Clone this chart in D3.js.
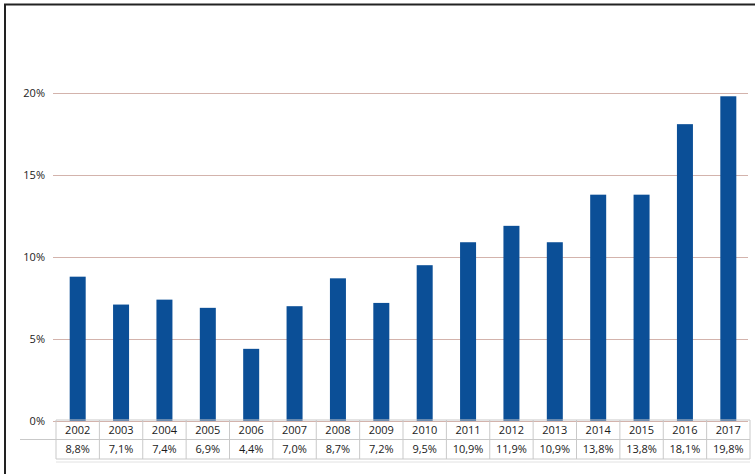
<!DOCTYPE html>
<html>
<head>
<meta charset="utf-8">
<script src="https://cdn.jsdelivr.net/npm/d3@7"></script>
<style>
  body { margin: 0; background: #fff; }
  svg { display: block; font-family: "Open Sans", "DejaVu Sans", sans-serif; }
</style>
</head>
<body>
<div id="chart"></div>
<script>
// Data
const years = ["2002", "2003", "2004", "2005", "2006", "2007", "2008", "2009",
  "2010", "2011", "2012", "2013", "2014", "2015", "2016", "2017"];
const shares = [8.8, 7.1, 7.4, 6.9, 4.4, 7.0, 8.7, 7.2, 9.5, 10.9, 11.9, 10.9, 13.8, 13.8, 18.1, 19.8];
const yTicks = [0, 5, 10, 15, 20];

const width = 755;
const height = 474;
const marginLeft = 56;
const marginRight = 5;
const plotTop = 93;   // y of the 20% line
const plotBottom = 421; // y of the 0% line

const svg = d3.create("svg").attr("width", width).attr("height", height);

// Outer frame (left and top edges)
svg.append("path")
  .attr("d", `M5,${height}V4.5H${width}`)
  .attr("fill", "none")
  .attr("stroke", "#222")
  .attr("stroke-width", 2);

const x = d3.scaleBand(years, [marginLeft, width - marginRight]).padding(0);
const y = d3.scaleLinear([0, 20], [plotBottom, plotTop]);

// Gridlines + y labels
const gy = svg.append("g")
  .attr("transform", `translate(53,0)`)
  .call(d3.axisLeft(y).tickValues(yTicks).tickSize(0).tickPadding(8).tickFormat(d => d + "%"))
  .call(g => g.select(".domain").remove());
gy.selectAll(".tick text")
  .attr("font-size", 11)
  .attr("fill", "#222")
  .attr("font-family", "Open Sans, sans-serif");
gy.selectAll(".tick line")
  .attr("x2", width - 7 - 53)
  .attr("stroke", "#d3b3ac")
  .attr("stroke-width", 1);

// Bars
const barW = 16;
svg.append("g")
  .attr("fill", "#0b4f97")
  .selectAll("rect")
  .data(shares)
  .join("rect")
  .attr("x", (d, i) => x(years[i]) + x.bandwidth() / 2 - barW / 2)
  .attr("y", d => y(d))
  .attr("width", barW)
  .attr("height", d => y(0) - y(d));

// Data table
const rowH = 19.5;
const tableTop = plotBottom - 1;
const table = svg.append("g").attr("font-size", 11).attr("fill", "#1a1a1a");
const lineColor = "#c9c9c9";

// horizontal lines
[tableTop, tableTop + rowH, tableTop + 2 * rowH].forEach((ly, i) => {
  table.append("line")
    .attr("x1", i === 1 ? 20 : marginLeft)
    .attr("x2", width - marginRight)
    .attr("y1", ly).attr("y2", ly)
    .attr("stroke", lineColor);
});
table.append("line")
  .attr("x1", marginLeft).attr("x2", width - marginRight)
  .attr("y1", tableTop + 2 * rowH + 3).attr("y2", tableTop + 2 * rowH + 3)
  .attr("stroke", "#e2e2e2");

// vertical lines
table.selectAll("line.v")
  .data(years.concat(["end"]))
  .join("line")
  .attr("class", "v")
  .attr("x1", (d, i) => i < years.length ? x(d) : x(years[years.length - 1]) + x.bandwidth())
  .attr("x2", (d, i) => i < years.length ? x(d) : x(years[years.length - 1]) + x.bandwidth())
  .attr("y1", tableTop).attr("y2", tableTop + 2 * rowH)
  .attr("stroke", lineColor);

table.selectAll("text.year")
  .data(years)
  .join("text")
  .attr("class", "year")
  .attr("x", d => x(d) + x.bandwidth() / 2)
  .attr("y", tableTop + rowH / 2)
  .attr("dy", "0.35em")
  .attr("text-anchor", "middle")
  .text(d => d);

table.selectAll("text.val")
  .data(shares)
  .join("text")
  .attr("class", "val")
  .attr("x", (d, i) => x(years[i]) + x.bandwidth() / 2)
  .attr("y", tableTop + rowH * 1.5)
  .attr("dy", "0.35em")
  .attr("text-anchor", "middle")
  .text(d => d.toFixed(1).replace(".", ",") + "%");

document.getElementById("chart").appendChild(svg.node());
</script>
</body>
</html>
